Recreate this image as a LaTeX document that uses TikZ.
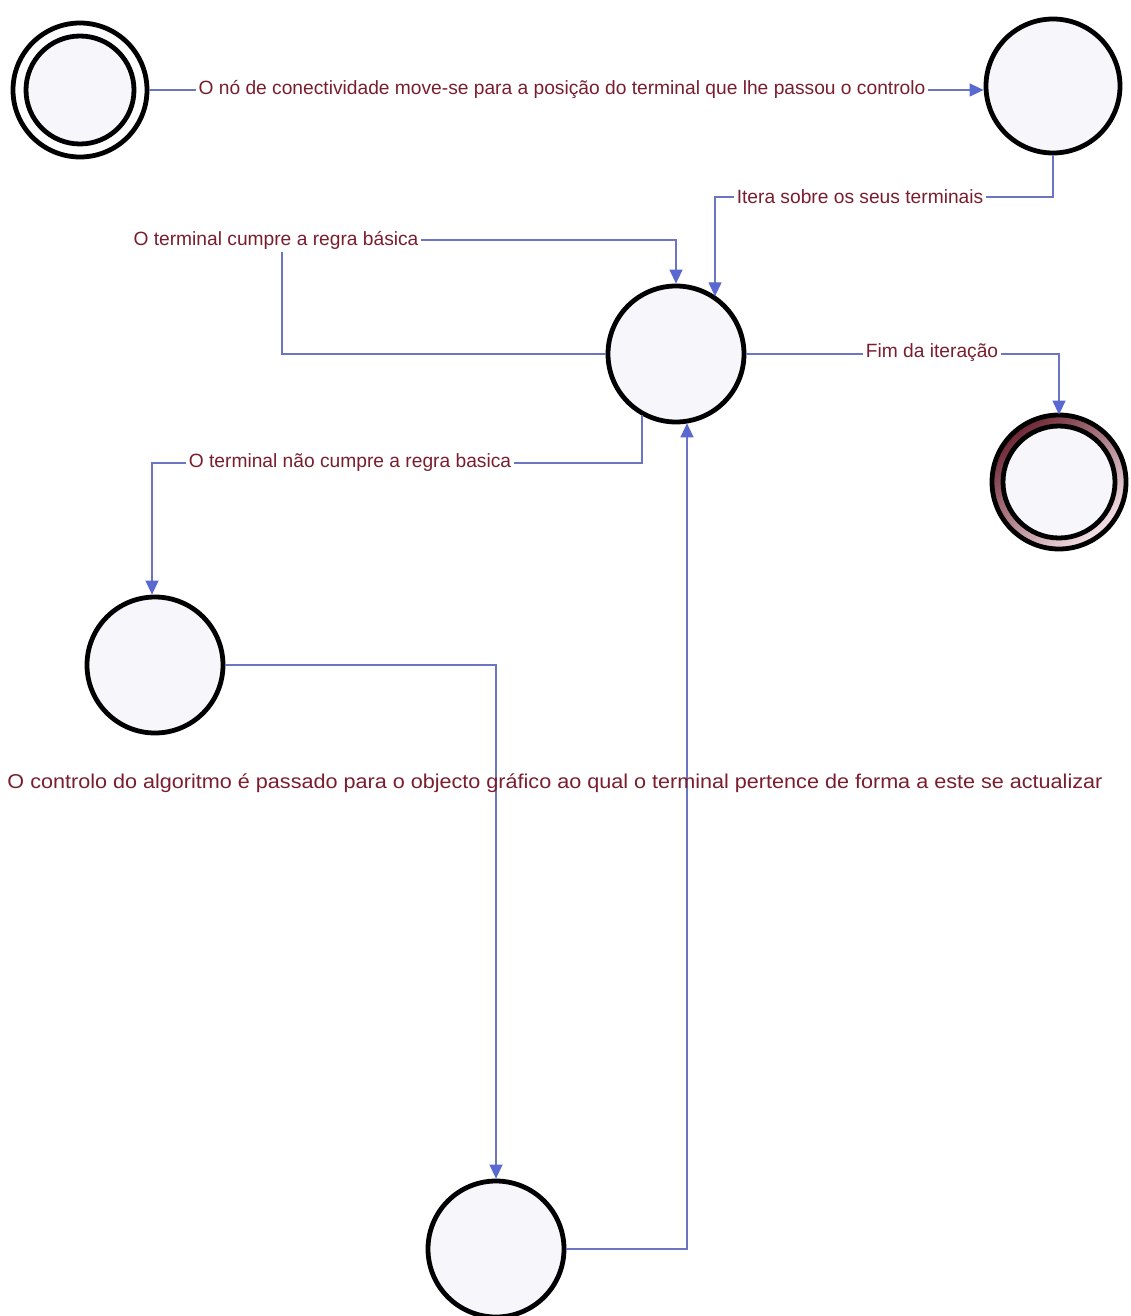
\documentclass[tikz,border=0pt]{standalone}
\usepackage{fontspec}
\setmainfont{Liberation Sans}
\usetikzlibrary{arrows.meta}
\definecolor{flow}{HTML}{6C74C4}
\definecolor{tipblue}{HTML}{5A68D2}
\definecolor{caption}{HTML}{7A1E2E}
\definecolor{statefill}{HTML}{F6F6FB}
\definecolor{ringdark}{HTML}{6E2634}
\definecolor{ringlight}{HTML}{F6E4EA}
\begin{document}
\begin{tikzpicture}[x=0.5pt,y=-0.5pt,
  state/.style={circle,draw=black,line width=2.4pt,fill=statefill,minimum size=68pt,inner sep=0pt},
  flowline/.style={draw=flow,line width=0.65pt,-{Triangle[width=6.5pt,length=7pt,color=tipblue]}},
  lbl/.style={fill=white,inner sep=1.5pt,text=caption,font=\fontsize{9.6}{11}\selectfont},
  freelbl/.style={inner sep=0pt,text=caption,font=\fontsize{10}{12}\selectfont}]
\useasboundingbox (0,0) rectangle (1130,1316);

% initial state (double ring)
\node[state,minimum size=67pt,fill=white] (start) at (80,90) {};
\draw[black,line width=2.4pt,fill=statefill] (start.center) circle[radius=54];

% states
\node[state,minimum size=67pt] (moved) at (1053,86) {};
\node[state] (iter) at (676,354) {};
\node[state] (fail) at (155,665) {};
\node[state] (update) at (496,1249) {};

% final state with shaded ring
\node[circle,minimum size=67pt,inner sep=0pt] (final) at (1059,482) {};
\shade[top color=ringdark,bottom color=ringlight,shading angle=40] (final.center) circle[radius=67];
\draw[black,line width=2.4pt] (final.center) circle[radius=67];
\draw[black,line width=2.4pt,fill=statefill] (final.center) circle[radius=56];

% bend points of the connectors
\coordinate (c1) at (1053,197);
\coordinate (c2) at (715,197);
\coordinate (c3) at (282,354);
\coordinate (c4) at (282,240);
\coordinate (c5) at (676,240);
\coordinate (c6) at (1059,354);
\coordinate (c7) at (642,463);
\coordinate (c8) at (152,463);
\coordinate (c9) at (496,665);
\coordinate (c10) at (687,1249);

% connectors
\draw[flowline] (start.east) -- (start.east -| moved.west);
\draw[flowline] (moved.south) -- (c1) -- (c2) -- (c2 |- iter.55);
\draw[flowline] (iter.west) -- (c3) -- (c4) -- (c5) -- (iter.north);
\draw[flowline] (iter.east) -- (c6) -- (final.north);
\draw[flowline] (c7 |- iter.-120) -- (c7) -- (c8) -- (c8 |- fail.north);
\draw[flowline] (fail.east) -- (c9) -- (update.north);
\draw[flowline] (update.east) -- (c10) -- (c10 |- iter.-80);

% labels on connectors
\node[lbl] (lmove) at (562,89) {O nó de conectividade move-se para a posição do terminal que lhe passou o controlo};
\node[lbl] (liter) at (860,197) {Itera sobre os seus terminais};
\node[lbl] (lok) at (276,240) {O terminal cumpre a regra básica};
\node[lbl] (lend) at (932,353) {Fim da iteração};
\node[lbl] (lnok) at (350,463) {O terminal não cumpre a regra basica};

% floating label of the update step
\node[freelbl] (lupd) at (555,783) {\scalebox{1.08}[1]{O controlo do algoritmo é passado para o objecto gráfico ao qual o terminal pertence de forma a este se actualizar}};
\end{tikzpicture}
\end{document}
